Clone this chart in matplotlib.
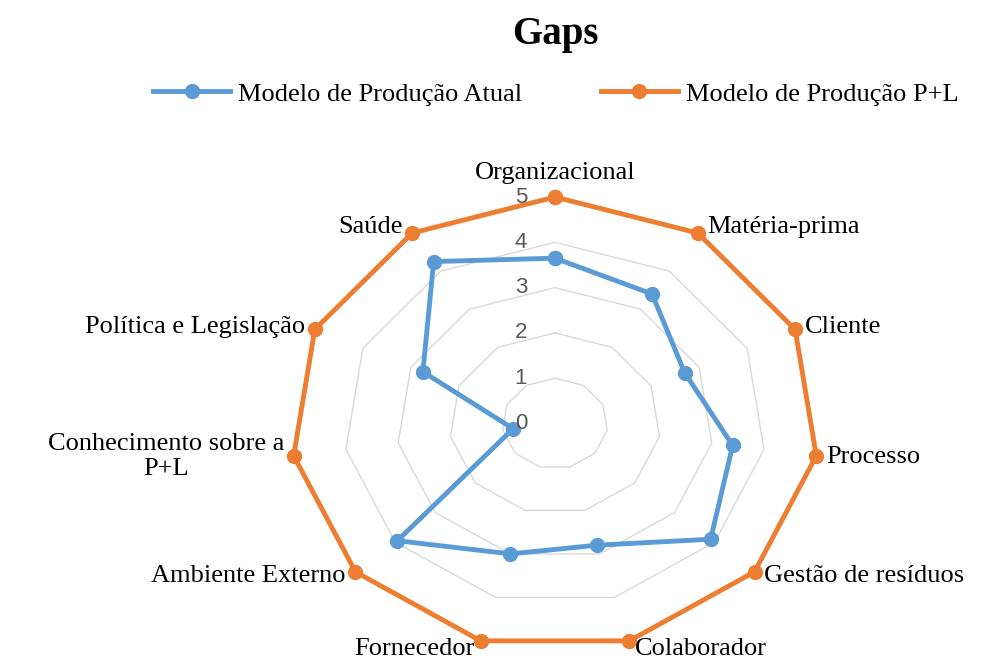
import numpy as np
import matplotlib
matplotlib.use('Agg')
import matplotlib.pyplot as plt

categories = ['Organizacional', 'Matéria-prima', 'Cliente', 'Processo',
              'Gestão de resíduos', 'Colaborador', 'Fornecedor',
              'Ambiente Externo', 'Conhecimento sobre a\nP+L',
              'Política e Legislação', 'Saúde']
atual = [3.65, 3.4, 2.7, 3.4, 3.9, 2.8, 3.0, 3.95, 0.8, 2.75, 4.25]
pl = [5, 5, 5, 5, 5, 5, 5, 5, 5, 5, 5]
levels = [0, 1, 2, 3, 4, 5]
series_names = ['Modelo de Produção Atual', 'Modelo de Produção P+L']

BLUE = '#5b9bd5'
ORANGE = '#ed7d31'
GRID = '#d9d9d9'
SERIF = 'Liberation Serif'

n = len(categories)
theta = np.arange(n) * 2 * np.pi / n


def to_xy(values):
    r = np.asarray(values, dtype=float)
    x = r * np.sin(theta)
    y = r * np.cos(theta)
    return np.append(x, x[0]), np.append(y, y[0])


fig = plt.figure(figsize=(9.89, 6.61), dpi=100)
# the original picture is stretched horizontally, so axes are not equal aspect
ax = fig.add_axes([0.2942, 0.0166, 0.5339, 0.6853])
ax.set_xlim(-5, 5)
ax.set_ylim(-5, 5)
ax.axis('off')

# polygon grid rings
for lv in levels[1:]:
    gx, gy = to_xy([lv] * n)
    ax.plot(gx, gy, color=GRID, lw=1, zorder=1)

# value labels on the first spoke
for lv in levels:
    ax.annotate(str(lv), xy=(0, lv), xytext=(-20, 0), textcoords='offset points',
                ha='right', va='center', fontsize=16, color='#595959',
                family='Liberation Sans', zorder=5)

lines = []
for vals, col, name in [(atual, BLUE, series_names[0]), (pl, ORANGE, series_names[1])]:
    x, y = to_xy(vals)
    ln, = ax.plot(x, y, color=col, lw=3.5, marker='o', markersize=10,
                  label=name, clip_on=False, zorder=3)
    lines.append(ln)

# category labels just outside the outer ring
for i, lab in enumerate(categories):
    s, c = np.sin(theta[i]), np.cos(theta[i])
    px, py = 5 * s, 5 * c
    if abs(s) < 0.05:
        ha, ox, oy = 'center', 0, 17
    else:
        ha = 'left' if s > 0 else 'right'
        ox = 7 if s > 0 else -7
        oy = 5 * c
        if c < -0.9:
            ox = 4 if s > 0 else -4
            oy = -6
    ax.annotate(lab, xy=(px, py), xytext=(ox, oy), textcoords='offset points',
                ha=ha, va='center', fontsize=19, family=SERIF,
                multialignment='center', zorder=5)

fig.text(0.562, 0.948, 'Gaps', ha='center', va='center', fontsize=28,
         fontweight='bold', family=SERIF)

fig.legend(handles=lines, loc='center', bbox_to_anchor=(0.562, 0.858), ncol=2,
           frameon=False, prop={'family': SERIF, 'size': 19},
           handlelength=2.9, columnspacing=3.0, handletextpad=0.3)

fig.savefig('out.png', dpi=100)
